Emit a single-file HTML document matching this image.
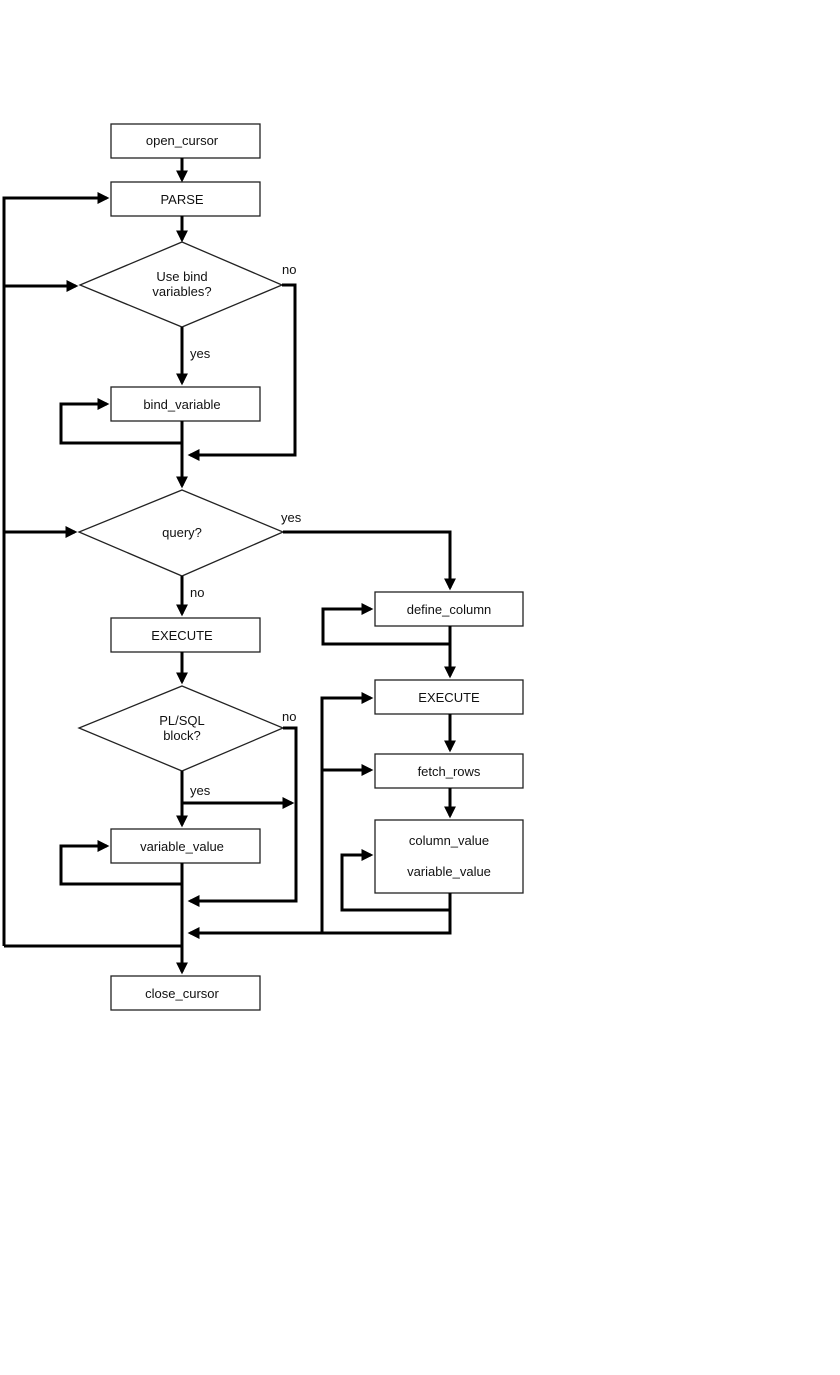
<!DOCTYPE html>
<html><head><meta charset="utf-8"><style>
html,body{margin:0;padding:0;background:#fff;}
svg{display:block;}
text{font-family:"Liberation Sans",sans-serif;font-size:13px;fill:#111;}
</style></head><body>
<svg width="840" height="1375" viewBox="0 0 840 1375">
<defs>
<marker id="a" markerWidth="4" markerHeight="4" refX="3.2" refY="2" orient="auto" markerUnits="strokeWidth">
<path d="M0,0 L4,2 L0,4 z" fill="#000"/>
</marker>
</defs>
<g fill="#fff" stroke="#222" stroke-width="1.3">
<rect x="111" y="124" width="149" height="34"/>
<rect x="111" y="182" width="149" height="34"/>
<polygon points="182,242 282,285 182,327 80,285"/>
<rect x="111" y="387" width="149" height="34"/>
<polygon points="182,490 283,532 182,576 79,532"/>
<rect x="111" y="618" width="149" height="34"/>
<polygon points="182,686 283,728 182,771 79,728"/>
<rect x="111" y="829" width="149" height="34"/>
<rect x="111" y="976" width="149" height="34"/>
<rect x="375" y="592" width="148" height="34"/>
<rect x="375" y="680" width="148" height="34"/>
<rect x="375" y="754" width="148" height="34"/>
<rect x="375" y="820" width="148" height="73"/>
</g>
<path d="M4,946 H182" fill="none" stroke="#000" stroke-width="3"/>
<g fill="none" stroke="#000" stroke-width="3" marker-end="url(#a)">
<path d="M182,158 V180"/>
<path d="M182,216 V240"/>
<path d="M182,327 V383"/>
<path d="M182,421 V486"/>
<path d="M182,576 V614"/>
<path d="M182,652 V682"/>
<path d="M182,771 V825"/>
<path d="M182,863 V972"/>
<path d="M4,946 V198 H107" />
<path d="M4,286 H76"/>
<path d="M4,532 H75"/>
<path d="M282,285 H295 V455 H190"/>
<path d="M182,443 H61 V404 H107"/>
<path d="M283,532 H450 V588"/>
<path d="M450,644 H323 V609 H371"/>
<path d="M450,626 V676"/>
<path d="M450,714 V750"/>
<path d="M450,788 V816"/>
<path d="M283,728 H296 V901 H190"/>
<path d="M182,803 H292"/>
<path d="M182,884 H61 V846 H107"/>
<path d="M450,910 H342 V855 H371"/>
<path d="M450,893 V933 H190"/>
<path d="M322,933 V698 H371"/>
<path d="M322,770 H371"/>
</g>
<g text-anchor="middle">
<text x="182" y="145">open_cursor</text>
<text x="182" y="204">PARSE</text>
<text x="182" y="281">Use bind</text>
<text x="182" y="296">variables?</text>
<text x="182" y="409">bind_variable</text>
<text x="182" y="537">query?</text>
<text x="182" y="640">EXECUTE</text>
<text x="182" y="725">PL/SQL</text>
<text x="182" y="740">block?</text>
<text x="182" y="851">variable_value</text>
<text x="182" y="998">close_cursor</text>
<text x="449" y="614">define_column</text>
<text x="449" y="702">EXECUTE</text>
<text x="449" y="776">fetch_rows</text>
<text x="449" y="845">column_value</text>
<text x="449" y="876">variable_value</text>
</g>
<text x="282" y="274">no</text>
<text x="190" y="358">yes</text>
<text x="281" y="522">yes</text>
<text x="190" y="597">no</text>
<text x="282" y="721">no</text>
<text x="190" y="795">yes</text>
</svg>
</body></html>
